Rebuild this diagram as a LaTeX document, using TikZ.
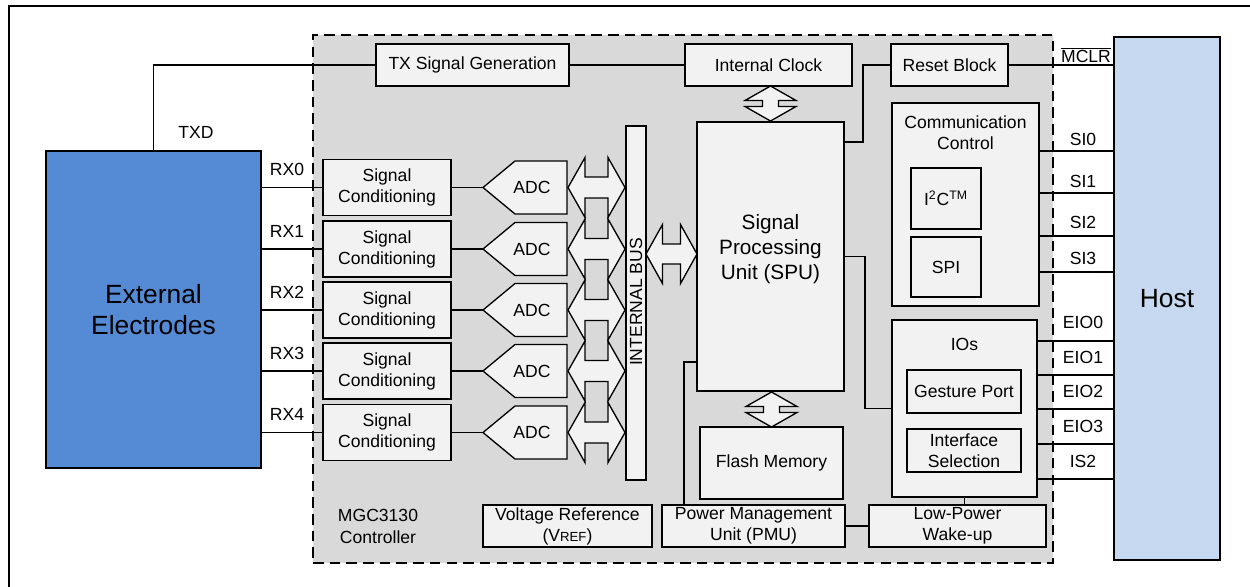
\documentclass[tikz,border=0pt]{standalone}
\usepackage{fontspec}
\setmainfont{Liberation Sans}
\definecolor{gbg}{HTML}{D9D9D9}
\definecolor{bfill}{HTML}{F2F2F2}
\definecolor{eblue}{HTML}{558AD5}
\definecolor{hblue}{HTML}{C6D9F0}
% horizontal double arrow: cx cy L h H s
\newcommand\HArw[6]{%
 \draw[arw] (#1-#3,#2) -- (#1-#3+#4,#2-#5) -- (#1-#3+#4,#2-#6) -- (#1+#3-#4,#2-#6) -- (#1+#3-#4,#2-#5) -- (#1+#3,#2) -- (#1+#3-#4,#2+#5) -- (#1+#3-#4,#2+#6) -- (#1-#3+#4,#2+#6) -- (#1-#3+#4,#2+#5) -- cycle;}
% vertical double arrow: cx cy L h H s
\newcommand\VArw[6]{%
 \draw[arw] (#1,#2-#3) -- (#1+#5,#2-#3+#4) -- (#1+#6,#2-#3+#4) -- (#1+#6,#2+#3-#4) -- (#1+#5,#2+#3-#4) -- (#1,#2+#3) -- (#1-#5,#2+#3-#4) -- (#1-#6,#2+#3-#4) -- (#1-#6,#2-#3+#4) -- (#1-#5,#2-#3+#4) -- cycle;}
\begin{document}
\begin{tikzpicture}[x=0.02cm,y=-0.02cm, font=\fontsize{10}{12}\selectfont,
 sz/.style 2 args={minimum width={#1*0.02cm},minimum height={#2*0.02cm}},
 box/.style={draw=black, fill=bfill, line width=0.75pt, inner sep=0pt, align=center},
 wire/.style={line width=0.65pt},
 lbl/.style={inner sep=0pt, align=center},
 arw/.style={draw=black, fill=bfill, line width=0.75pt, line join=miter}]
\useasboundingbox (0,0) rectangle (1250,586);
\clip (0,0) rectangle (1250,586);
\draw[line width=1.3pt] (9,6) rectangle (1262,600);

% controller region
\node[draw=black, fill=gbg, line width=1.1pt, dash pattern=on 6pt off 3.5pt, sz={740}{528}] (ctrl) at (683,299) {};

% big blocks
\node[draw=black, fill=eblue, line width=0.9pt, sz={215}{317}, align=center, font=\fontsize{15}{17.6}\selectfont] (elec) at (153.5,309.5) {External\\Electrodes};
\node[draw=black, fill=hblue, line width=0.9pt, sz={106}{523}, font=\fontsize{15}{18}\selectfont] (host) at (1167,298.5) {Host};

% helper coordinates
\coordinate (xReset) at (863,0);
\coordinate (xIO) at (865,0);
\coordinate (xPmu) at (684,0);
\coordinate (yReset) at (0,142);
\coordinate (yPmu) at (0,362);

% top row
\node[box, sz={193}{42}] (txgen) at (472.5,65) {TX Signal Generation};
\node[box, sz={167}{42}] (clock) at (768.5,65) {Internal Clock};
\node[box, sz={117}{42}] (reset) at (949.5,65) {Reset Block};

% SPU and others
\node[box, sz={147}{269}] (spu) at (770.5,256.5) {};
\node[lbl, font=\fontsize{11.8}{14.2}\selectfont] (spulbl) at (770.5,249) {Signal\\Processing\\Unit (SPU)};
\node[box, sz={143}{72}] (flash) at (771.5,463) {Flash Memory};
\node[box, sz={20}{354}] (bus) at (636,303) {};
\node[lbl, rotate=90] (buslbl) at (636,302) {INTERNAL BUS};
\node[box, sz={169}{42}] (vref) at (567.5,526) {Voltage Reference\\(V{\fontsize{7.5}{9}\selectfont REF})};
\node[box, sz={183}{42}] (pmu) at (753.5,526) {Power Management\\Unit (PMU)};
\node[box, sz={177}{42}] (lpw) at (957.5,526) {Low-Power\\Wake-up};

% communication and IOs
\node[box, sz={147}{203}] (comm) at (965.5,204.5) {};
\node[lbl] (commlbl) at (965.5,133) {Communication\\Control};
\node[box, sz={70}{61}] (i2c) at (946,198.5) {I\textsuperscript{2}C\textsuperscript{TM}};
\node[box, sz={70}{60}] (spi) at (946,267) {SPI};
\node[box, sz={145}{177}] (ios) at (964.5,408.5) {};
\node[lbl] (ioslbl) at (964.5,344) {IOs};
\node[box, sz={114}{43}] (gport) at (964,391.5) {Gesture Port};
\node[box, sz={114}{43}] (isel) at (964,450.5) {Interface\\Selection};

% wires
\draw[wire] (txgen.west) -| (elec.north);
\draw[wire] (txgen.east) -- (clock.west);
\draw[wire] (reset.east) -- (reset.east -| host.west);
\draw[wire] (reset.west) -| (xReset |- yReset) -- (spu.east |- yReset);
\draw[wire] (spu.east) -- (xIO |- spu.east) |- (ios.west);
\draw[wire] (pmu.north -| xPmu) -- (xPmu |- yPmu) -- (spu.west |- yPmu);
\draw[wire] (pmu.east) -- (lpw.west);
\draw[wire] (ios.south) -- (ios.south |- lpw.north);
\foreach \yy in {151,193,236,272}{
  \coordinate (si) at (0,\yy);
  \draw[wire] (comm.east |- si) -- (host.west |- si);
}
\foreach \yy in {341,375,409,444,479}{
  \coordinate (eio) at (0,\yy);
  \draw[wire] (ios.east |- eio) -- (host.west |- eio);
}

% signal conditioning chain
\foreach \i/\yy in {0/187.5,1/249,2/310,3/371,4/432.5}{
  \node[box, sz={128}{56}] (sc\i) at (387,\yy) {Signal\\Conditioning};
  \draw[wire] (elec.east |- sc\i) -- (sc\i.west);
  \coordinate (adc\i) at (483,\yy);
  \draw[wire] (sc\i.east) -- (adc\i);
  \draw[arw] (adc\i) -- ++(32,-26.5) -- ++(52,0) -- ++(0,53) -- ++(-52,0) -- cycle;
  \node[lbl] (adclbl\i) at (532,\yy) {ADC};
  \HArw{596.5}{\yy}{28.5}{17}{30}{10.5}
  \node[lbl] (rx\i) at (287,\yy-18) {RX\i};
}

% other double arrows
\HArw{671.5}{254}{25.5}{16.5}{29.5}{10}
\VArw{770.5}{103.5}{17.5}{14.5}{25.5}{8}
\VArw{771.5}{409.5}{17.5}{14.5}{25.5}{8}

% labels
\node[lbl] (txd) at (196,132) {TXD};
\node[lbl] (mclr) at (1086,55) {$\overline{\mbox{MCLR}}$};
\node[lbl] (si0) at (1083,139) {SI0};
\node[lbl] (si1) at (1083,181) {SI1};
\node[lbl] (si2) at (1083,222) {SI2};
\node[lbl] (si3) at (1083,258) {SI3};
\node[lbl] (eio0) at (1083,322) {EIO0};
\node[lbl] (eio1) at (1083,357) {EIO1};
\node[lbl] (eio2) at (1083,391) {EIO2};
\node[lbl] (eio3) at (1083,426) {EIO3};
\node[lbl] (is2) at (1083,461) {IS2};
\node[lbl, font=\fontsize{10}{12.5}\selectfont] (mgc) at (378,526) {MGC3130\\Controller};
\end{tikzpicture}
\end{document}
